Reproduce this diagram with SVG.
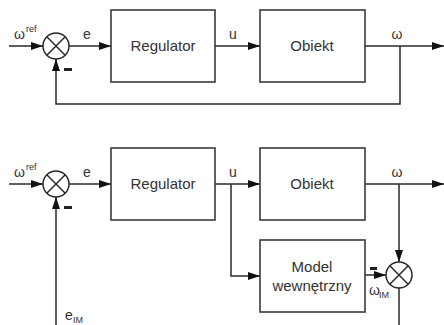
<svg xmlns="http://www.w3.org/2000/svg" width="444" height="325" viewBox="0 0 444 325">
<defs>
<style>
.ln{fill:none;stroke:#2a2a2a;stroke-width:1.5}
.bx{fill:#fff;stroke:#3a3a3a;stroke-width:1.6}
.sm{fill:#fff;stroke:#2a2a2a;stroke-width:1.5}
.t{font-family:"Liberation Sans",Arial,sans-serif;fill:#333;font-size:15px}
.lb{font-family:"Liberation Sans",Arial,sans-serif;fill:#333;font-size:14px}
.sub{font-family:"Liberation Sans",Arial,sans-serif;fill:#333;font-size:9px}
.mn{fill:#222}
</style>
<marker id="ah" viewBox="0 0 12 8" refX="12" refY="4" markerWidth="12" markerHeight="8" markerUnits="userSpaceOnUse" orient="auto">
<path d="M0,0 L12,4 L0,8 Z" fill="#111"/>
</marker>
</defs>
<rect width="444" height="325" fill="#fff"/>

<g id="connectors">
<line class="ln" x1="9" y1="46" x2="43" y2="46" marker-end="url(#ah)"/>
<line class="ln" x1="69" y1="46" x2="111" y2="46" marker-end="url(#ah)"/>
<line class="ln" x1="215" y1="46" x2="260" y2="46" marker-end="url(#ah)"/>
<line class="ln" x1="365" y1="46" x2="444" y2="46" marker-end="url(#ah)"/>
<polyline class="ln" points="400,46 400,104 56,104 56,59" marker-end="url(#ah)"/>
<line class="ln" x1="9" y1="184" x2="43" y2="184" marker-end="url(#ah)"/>
<line class="ln" x1="69" y1="184" x2="111" y2="184" marker-end="url(#ah)"/>
<line class="ln" x1="215" y1="184" x2="260" y2="184" marker-end="url(#ah)"/>
<line class="ln" x1="365" y1="184" x2="444" y2="184" marker-end="url(#ah)"/>
<polyline class="ln" points="231,184 231,276 260,276" marker-end="url(#ah)"/>
<line class="ln" x1="399" y1="184" x2="399" y2="262" marker-end="url(#ah)"/>
<line class="ln" x1="365" y1="275" x2="386" y2="275" marker-end="url(#ah)"/>
<line class="ln" x1="399" y1="288" x2="399" y2="325"/>
<line class="ln" x1="56" y1="325" x2="56" y2="197" marker-end="url(#ah)"/>
</g>

<g id="labels">
<text class="lb" x="14" y="39">ω</text><text class="sub" x="26" y="32">ref</text>
<text class="lb" x="87" y="39" text-anchor="middle">e</text>
<text class="lb" x="233" y="39" text-anchor="middle">u</text>
<text class="lb" x="397" y="39" text-anchor="middle">ω</text>
<rect class="mn" x="64" y="68" width="8" height="3"/>

<text class="lb" x="14" y="177">ω</text><text class="sub" x="26" y="170">ref</text>
<text class="lb" x="87" y="177" text-anchor="middle">e</text>
<text class="lb" x="233" y="177" text-anchor="middle">u</text>
<text class="lb" x="397" y="177" text-anchor="middle">ω</text>
<rect class="mn" x="64" y="206" width="8" height="3"/>
<rect class="mn" x="370" y="267" width="7" height="3"/>
<text class="lb" x="369" y="295">ω</text><text class="sub" x="379" y="298">IM</text>
<text class="lb" x="65" y="320">e</text><text class="sub" x="73" y="323">IM</text>
</g>

<g id="sum1">
<circle class="sm" cx="56" cy="46" r="13"/>
<path class="ln" d="M46.8,36.8 L65.2,55.2 M65.2,36.8 L46.8,55.2"/>
</g>
<g id="regulator1">
<rect class="bx" x="111" y="10" width="104" height="72"/>
<text class="t" x="163" y="51" text-anchor="middle">Regulator</text>
</g>
<g id="obiekt1">
<rect class="bx" x="260" y="10" width="105" height="72"/>
<text class="t" x="312" y="51" text-anchor="middle">Obiekt</text>
</g>

<g id="sum2">
<circle class="sm" cx="56" cy="184" r="13"/>
<path class="ln" d="M46.8,174.8 L65.2,193.2 M65.2,174.8 L46.8,193.2"/>
</g>
<g id="regulator2">
<rect class="bx" x="111" y="148" width="104" height="72"/>
<text class="t" x="163" y="189" text-anchor="middle">Regulator</text>
</g>
<g id="obiekt2">
<rect class="bx" x="260" y="148" width="105" height="72"/>
<text class="t" x="312" y="189" text-anchor="middle">Obiekt</text>
</g>
<g id="model">
<rect class="bx" x="260" y="240" width="105" height="72"/>
<text class="t" x="312" y="272" text-anchor="middle">Model</text>
<text class="t" x="312" y="291" text-anchor="middle">wewnętrzny</text>
</g>
<g id="sum3">
<circle class="sm" cx="399" cy="275" r="13"/>
<path class="ln" d="M389.8,265.8 L408.2,284.2 M408.2,265.8 L389.8,284.2"/>
</g>
</svg>
